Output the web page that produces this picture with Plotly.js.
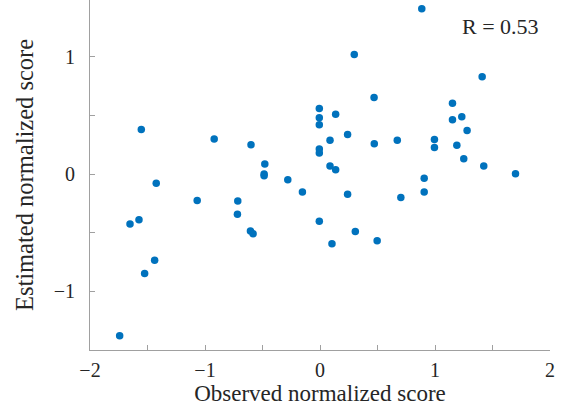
<!DOCTYPE html>
<html>
<head>
<meta charset="utf-8">
<script src="https://cdn.plot.ly/plotly-3.0.1.min.js"></script>
<style>html,body{margin:0;padding:0;background:#fff;}#chart{width:571px;height:414px;}</style>
</head>
<body>
<div id="chart"></div>
<script>
const observed = [-1.554,-0.92,-0.60,-0.48,-0.486,-0.486,-0.28,-0.006,-0.006,-0.006,-0.006,-0.006,
  0.885,0.298,1.41,0.47,1.152,0.136,1.152,1.233,1.279,0.24,0.087,0.472,0.672,0.995,0.995,1.19,1.25,
  0.087,0.136,1.424,1.70,0.906,0.906,-0.153,0.24,0.703,-0.006,0.307,0.104,0.497,
  -1.424,-1.068,-0.715,-0.718,-0.605,-0.582,-1.652,-1.574,-1.438,-1.525,-1.742];
const estimated = [0.38,0.30,0.25,0.087,0.0,-0.013,-0.047,0.56,0.48,0.42,0.215,0.18,
  1.41,1.02,0.83,0.654,0.605,0.51,0.463,0.489,0.372,0.338,0.289,0.26,0.289,0.295,0.227,0.246,0.132,
  0.07,0.038,0.07,0.004,-0.036,-0.152,-0.152,-0.172,-0.2,-0.403,-0.49,-0.594,-0.568,
  -0.078,-0.224,-0.229,-0.343,-0.486,-0.509,-0.426,-0.389,-0.734,-0.848,-1.378];
const xTickVals = [-2,-1.5,-1,-0.5,0,0.5,1,1.5,2];
const xTickText = ["\u22122","","\u22121","","0","","1","","2"];
const yTickVals = [-1.5,-1,-0.5,0,0.5,1,1.5];
const yTickText = ["","\u22121","","0","","1",""];
const rLabel = "R = 0.53";

const font = "Liberation Serif, Times New Roman, serif";
const axisCommon = {
  showgrid:false, zeroline:false, showline:true, linecolor:"#a0a0a0", linewidth:1,
  ticks:"inside", ticklen:5, tickcolor:"#a0a0a0", tickwidth:1, tickmode:"array",
  tickfont:{family:font, size:20, color:"#262626"}, automargin:false
};
const layout = {
  width:571, height:414,
  margin:{l:90, r:21, t:0, b:64},
  paper_bgcolor:"#fff", plot_bgcolor:"#fff",
  showlegend:false,
  xaxis: Object.assign({}, axisCommon, {
    range:[-2,2], tickvals:xTickVals, ticktext:xTickText, ticklabelstandoff:2,
    title:{text:"Observed normalized score", font:{family:font, size:23, color:"#262626"}, standoff:3}
  }),
  yaxis: Object.assign({}, axisCommon, {
    range:[-1.5,1.485], tickvals:yTickVals, ticktext:yTickText, ticklabelstandoff:10,
    title:{text:"Estimated normalized score", font:{family:font, size:24.5, color:"#262626"}, standoff:13}
  }),
  annotations:[{
    text:rLabel, xref:"x", yref:"y", x:1.571, y:1.26, showarrow:false,
    xanchor:"center", yanchor:"middle", font:{family:font, size:22, color:"#262626"}
  }]
};
const data = [{
  type:"scatter", mode:"markers", x:observed, y:estimated,
  marker:{color:"#0072BD", size:7.5, line:{width:0}}, cliponaxis:false
}];
Plotly.newPlot("chart", data, layout, {displayModeBar:false, staticPlot:true});
</script>
</body>
</html>
